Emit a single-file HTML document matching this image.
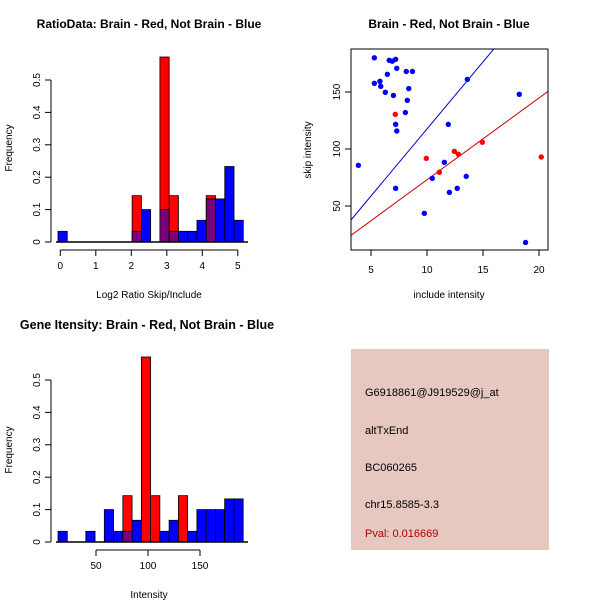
<!DOCTYPE html>
<html><head><meta charset="utf-8"><style>
body{margin:0;background:#fff}
svg{display:block;font-family:"Liberation Sans",sans-serif}
</style></head><body>
<svg id="s" width="600" height="600" viewBox="0 0 600 600">
<rect width="600" height="600" fill="#fff"/>
<text x="149" y="28" font-size="12" font-weight="bold" text-anchor="middle">RatioData: Brain - Red, Not Brain - Blue</text>
<text x="449" y="28" font-size="12" font-weight="bold" text-anchor="middle">Brain - Red, Not Brain - Blue</text>
<text x="147" y="329" font-size="12.5" font-weight="bold" text-anchor="middle">Gene Itensity: Brain - Red, Not Brain - Blue</text>
<text x="149" y="298" font-size="10" text-anchor="middle">Log2 Ratio Skip/Include</text>
<text x="149" y="598" font-size="10" text-anchor="middle">Intensity</text>
<text x="449" y="298" font-size="10" text-anchor="middle">include intensity</text>
<text transform="translate(12,148) rotate(-90)" font-size="10" text-anchor="middle">Frequency</text>
<text transform="translate(12,450) rotate(-90)" font-size="10" text-anchor="middle">Frequency</text>
<text transform="translate(311,150) rotate(-90)" font-size="10" text-anchor="middle">skip intensity</text>
<g>
<rect x="351" y="349" width="198" height="201" fill="#e6c8c1"/>
<text x="365" y="396" font-size="11">G6918861@J919529@j_at</text>
<text x="365" y="434" font-size="11">altTxEnd</text>
<text x="365" y="471" font-size="11">BC060265</text>
<text x="365" y="508" font-size="11">chr15.8585-3.3</text>
<text x="365" y="537" font-size="11" fill="#b00000">Pval: 0.016669</text>
</g>
</svg>
<script>
// Ratio histogram data (frequency per bin)
const ratioBlue=[0.033,0,0,0,0,0,0,0,0.033,0.1,0,0.1,0.033,0.033,0.033,0.067,0.133,0.133,0.233,0.067];
const ratioRed=[0,0,0,0,0,0,0,0,0.143,0,0,0.571,0.143,0,0,0,0.143,0,0,0];
const ratioTicks=[0,1,2,3,4,5];
// Intensity histogram data
const intBlue=[0.033,0,0,0.033,0,0.1,0.033,0.033,0.067,0,0,0.033,0.067,0,0.033,0.1,0.1,0.1,0.133,0.133];
const intRed=[0,0,0,0,0,0,0,0.143,0,0.571,0.143,0,0,0.143,0,0,0,0,0,0];
const intTicks=[50,100,150];
const freqTicks=[0,0.1,0.2,0.3,0.4,0.5];
// Scatter data
const blueX=[5.3,6.63,6.9,7.2,6.46,7.3,8.15,8.7,5.3,5.8,5.87,6.28,7,8.37,8.24,8.07,7.2,7.3,13.6,18.24,3.87,11.9,11.55,10.47,7.2,9.76,12,12.7,13.5,18.8];
const blueY=[180,177.8,177,178.7,165.5,170.8,168,168,157.6,159.4,155,149.7,147,153,142.7,132,121.6,115.8,161,148,85.7,121.6,88.3,74.3,65.5,43.6,62,65.5,76,18];
const redX=[7.17,9.94,11.1,12.44,12.8,14.94,20.2];
const redY=[130.4,91.8,79.6,98,95.4,106,93];
const blueFit=[0,11.76];
const redFit=[1.2,7.18];
const sxTicks=[5,10,15,20];
const syTicks=[50,100,150];

const NS='http://www.w3.org/2000/svg';
const svg=document.getElementById('s');
function mk(tag,at,parent){const e=document.createElementNS(NS,tag);for(const k in at)e.setAttribute(k,at[k]);(parent||svg).appendChild(e);return e;}

function hist(blue,red,x0,binStart,binW,xs,ys,ticks,tickY,prefix,axisX0,axisX1){
  const g=mk('g',{});
  
  
  for(let i=0;i<blue.length;i++){
    const l=xs(binStart+i*binW),r=xs(binStart+(i+1)*binW);
    const b=blue[i],rd=red[i];
    const draw=(v,col,nm)=>{if(v<=0)return;const e=mk('rect',{x:l,y:ys(v),width:r-l,height:ys(0)-ys(v),fill:col,stroke:'#000','stroke-width':0.8},g);
      
      };
    if(rd>=b){draw(rd,'#ff0000',prefix+'-bar-red');draw(Math.min(b,rd),b>0?'#7a007a':'#ff0000',prefix+'-bar-overlap');}
    else{draw(b,'#0000ff',prefix+'-bar-blue');draw(rd,'#7a007a',prefix+'-bar-overlap');}
  }
  const ya=mk('g',{},g);
  
  
  mk('line',{x1:51,x2:51,y1:ys(0),y2:ys(0.5),stroke:'#000'},ya);
  freqTicks.forEach(t=>{mk('line',{x1:45,x2:51,y1:ys(t),y2:ys(t),stroke:'#000'},ya);
    const tx=mk('text',{transform:`translate(40,${ys(t)}) rotate(-90)`,'font-size':10,'text-anchor':'middle'},ya);tx.textContent=String(t);});
  mk('line',{x1:56,x2:248,y1:ys(0),y2:ys(0),stroke:'#000','stroke-width':1.5},g);
  const xa=mk('g',{},g);
  
  
  mk('line',{x1:xs(axisX0),x2:xs(axisX1),y1:tickY,y2:tickY,stroke:'#000'},xa);
  ticks.forEach(t=>{mk('line',{x1:xs(t),x2:xs(t),y1:tickY,y2:tickY+6,stroke:'#000'},xa);
    const tx=mk('text',{x:xs(t),y:tickY+19,'font-size':10,'text-anchor':'middle'},xa);tx.textContent=String(t);});
}
hist(ratioBlue,ratioRed,0,-0.065,0.261,v=>60.3+v*35.5,v=>242-v*324,ratioTicks,250,'ratio',0,5);
hist(intBlue,intRed,0,13.5,8.9,v=>44+v*1.04,v=>542-v*324,intTicks,550,'intensity',50,150);

const sx=v=>315+v*11.2, sy=v=>263-v*1.14;
const sg=mk('g',{});


mk('clipPath',{id:'cp'},sg);
mk('rect',{x:351,y:49,width:197,height:201},document.getElementById('cp'));
const fitLine=(f,col,nm)=>{const xa=0,xb=25;const e=mk('line',{x1:sx(xa),y1:sy(f[0]+f[1]*xa),x2:sx(xb),y2:sy(f[0]+f[1]*xb),stroke:col,'clip-path':'url(#cp)'},sg);
  
  };
fitLine(blueFit,'#0000cc','blue-fit-line');
fitLine(redFit,'#cc0000','red-fit-line');
blueX.forEach((x,i)=>{const c=mk('circle',{cx:sx(x),cy:sy(blueY[i]),r:2.7,fill:'#0000ff'},sg);
  
  });
redX.forEach((x,i)=>{const c=mk('circle',{cx:sx(x),cy:sy(redY[i]),r:2.7,fill:'#ff0000'},sg);
  
  });
mk('rect',{x:351,y:49,width:197,height:201,fill:'none',stroke:'#000'},sg);
const sxa=mk('g',{},sg);


sxTicks.forEach(t=>{mk('line',{x1:sx(t),x2:sx(t),y1:250,y2:256,stroke:'#000'},sxa);
  const tx=mk('text',{x:sx(t),y:273,'font-size':10,'text-anchor':'middle'},sxa);tx.textContent=String(t);});
const sya=mk('g',{},sg);


syTicks.forEach(t=>{mk('line',{x1:345,x2:351,y1:sy(t),y2:sy(t),stroke:'#000'},sya);
  const tx=mk('text',{transform:`translate(340,${sy(t)}) rotate(-90)`,'font-size':10,'text-anchor':'middle'},sya);tx.textContent=String(t);});
</script>
</body></html>
